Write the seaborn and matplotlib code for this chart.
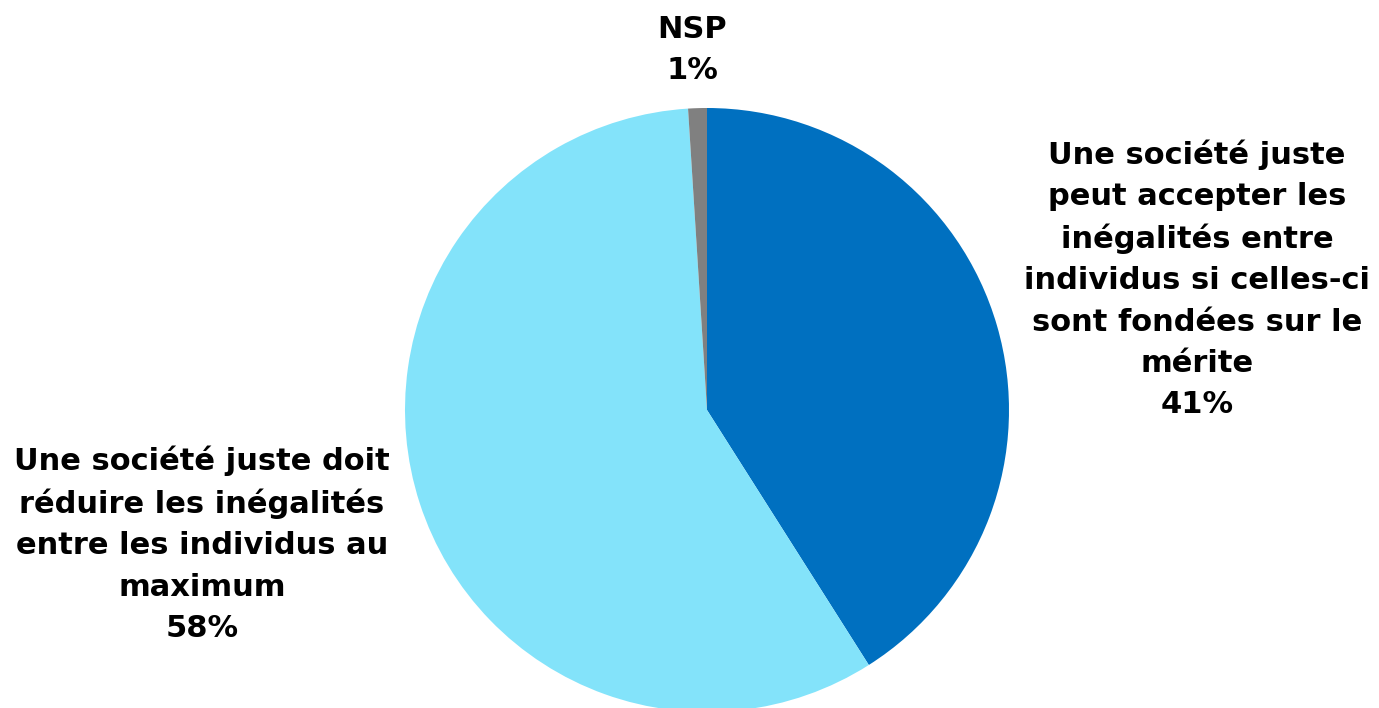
import matplotlib
matplotlib.use("Agg")
import matplotlib.pyplot as plt
import seaborn as sns

categories = [
    "Une société juste\npeut accepter les\ninégalités entre\nindividus si celles-ci\nsont fondées sur le\nmérite",
    "Une société juste doit\nréduire les inégalités\nentre les individus au\nmaximum",
    "NSP",
]
values = [41, 58, 1]
colors = ["#0070C0", "#83E3FA", "#808080"]

sns.set_theme(style="white")
plt.rcParams['font.family'] = ['DejaVu Sans']

W, H = 1379, 708
fig = plt.figure(figsize=(W / 100, H / 100), dpi=100)
ax = fig.add_axes([0, 0, 1, 1])
ax.pie(values, colors=colors, startangle=90, counterclock=False,
       center=(707, H - 410), radius=302,
       wedgeprops=dict(linewidth=0))
ax.set_xlim(0, W)
ax.set_ylim(0, H)
ax.set_aspect("equal")
ax.axis("off")

label_pos = [(1197, H - 279), (202, H - 544), (692, H - 50)]
for cat, val, (x, y) in zip(categories, values, label_pos):
    ax.text(x, y, f"{cat}\n{val}%", ha="center", va="center",
            fontsize=22, fontweight="bold", color="black", linespacing=1.53)

fig.savefig("out.png", dpi=100, facecolor="white")
